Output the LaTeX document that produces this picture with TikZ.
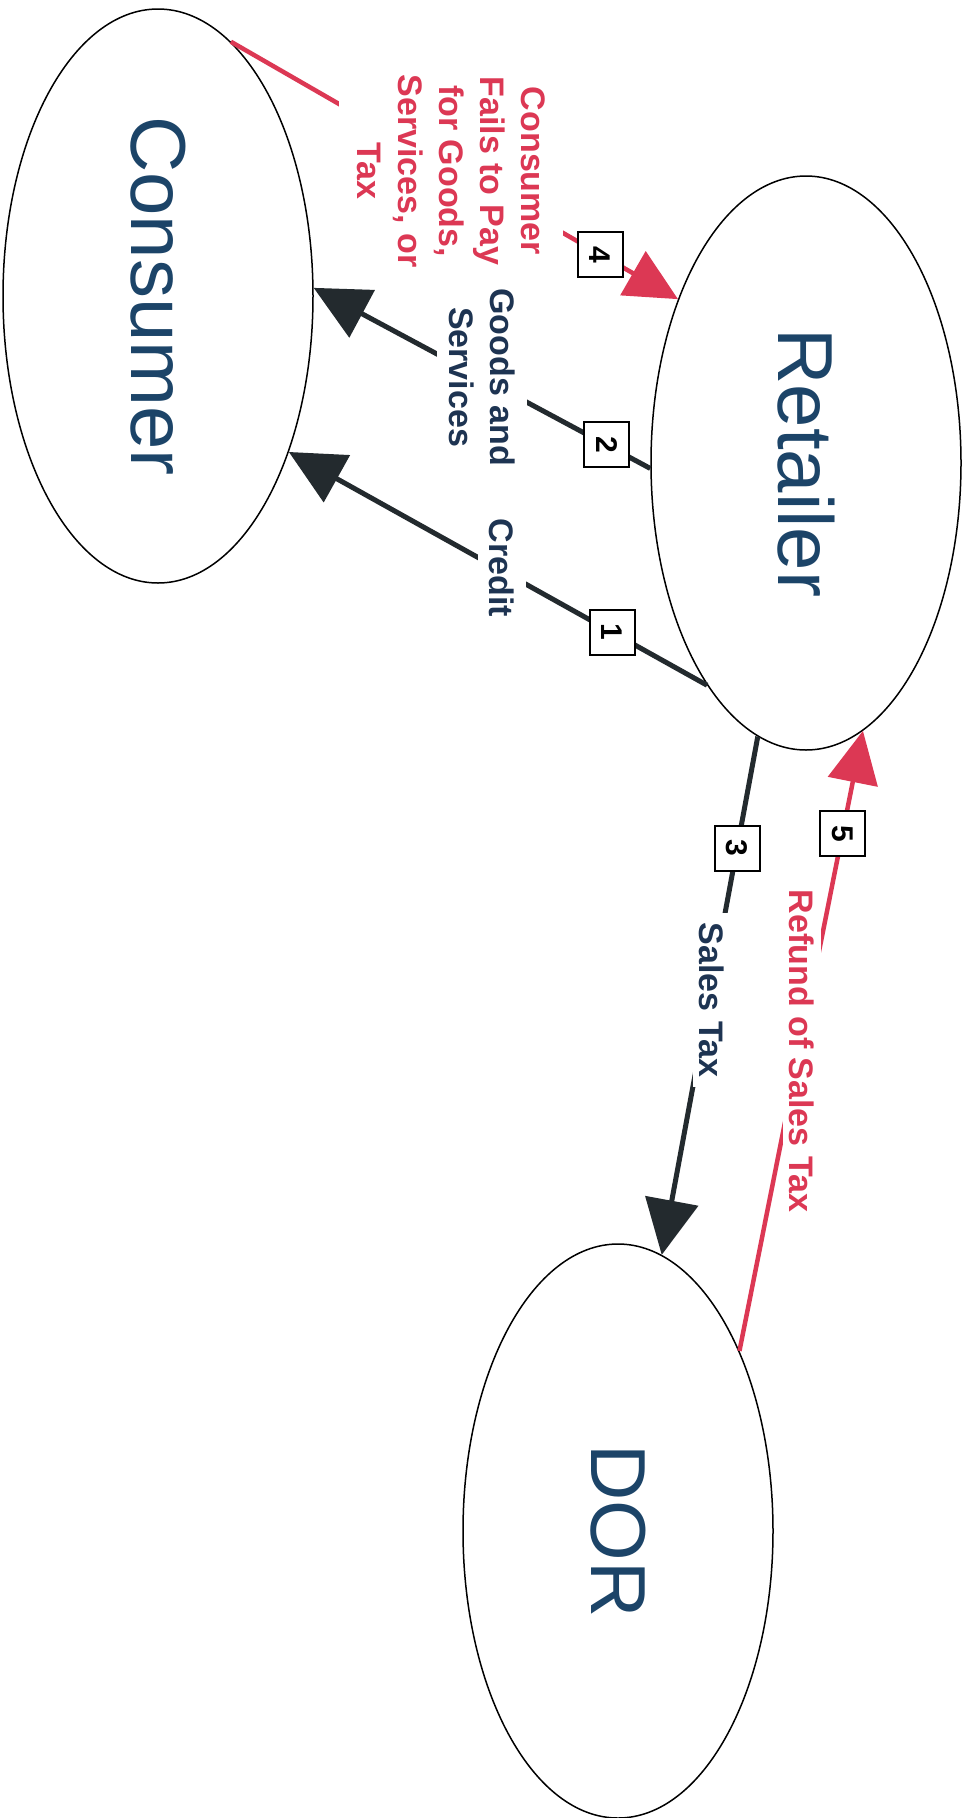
\documentclass[tikz,border=0pt]{standalone}
\usepackage{fontspec}
\usepackage{graphicx}
\setmainfont{Liberation Sans}
\usetikzlibrary{shapes.geometric,arrows.meta}
\definecolor{navy}{RGB}{28,68,104}
\definecolor{lblnavy}{RGB}{30,52,82}
\definecolor{redc}{RGB}{220,56,84}
\definecolor{darkline}{RGB}{35,42,46}
\tikzset{
  ell/.style={ellipse, draw=black, line width=1.5pt, minimum width=310pt, minimum height=574pt,
    inner sep=0pt, font=\fontsize{78}{78}\selectfont, text=navy},
  blk/.style={draw=darkline, line width=5pt, -{Triangle[length=55pt,width=53pt]}},
  redarr/.style={draw=redc, line width=4.5pt, -{Triangle[length=52pt,width=50pt]}},
  numbox/.style={draw=black, fill=white, line width=2pt, minimum size=45pt, inner sep=0pt,
    rotate=-90, font=\bfseries\fontsize{30}{30}\selectfont, text=black},
  lbl/.style={fill=white, rotate=-90, align=center, font=\bfseries\fontsize{34}{41}\selectfont,
    inner xsep=6pt, inner ysep=0pt},
}
\begin{document}
\begin{tikzpicture}[x=1pt,y=-1pt]
\path[use as bounding box, fill=white] (0,0) rectangle (967,1818);

% ellipses
\node[ell] (cons) at (158,296) {\rotatebox{-90}{Consumer}};
\node[ell] (ret) at (806,463) {\rotatebox{-90}{Retailer}};
\node[ell] (dor) at (618,1531) {\rotatebox{-90}{DOR}};

% connectors
\draw[redarr] (cons.74) -- node[numbox, pos=0.826] (b4) {4} (ret.128);
\draw[blk] (ret.182) -- node[numbox, pos=0.13] (b2) {2} (cons.3);
\draw[blk] (ret.246) -- node[numbox, pos=0.227] (b1) {1} (cons.310);
\draw[blk] (ret.260) -- node[numbox, pos=0.215] (b3) {3} (dor.81);
\draw[redarr] (dor.56) -- node[numbox, pos=0.834] (b5) {5} (ret.282);

% labels
\node[lbl, text=redc, inner ysep=18pt] (l4) at (451,171)
  {Consumer\\Fails to Pay\\for Goods,\\Services, or\\Tax};
\node[lbl, text=lblnavy, inner ysep=12pt] (l2) at (482,377) {Goods and\\Services};
\node[lbl, text=lblnavy, inner ysep=12pt] (l1) at (502,568) {Credit};
\node[lbl, text=lblnavy, inner xsep=10pt, inner ysep=6.5pt] (l3) at (712,1000) {Sales Tax};
\node[lbl, text=redc, inner xsep=4pt, inner ysep=6.5pt] (l5) at (802,1051) {Refund of Sales Tax};
\end{tikzpicture}
\end{document}
